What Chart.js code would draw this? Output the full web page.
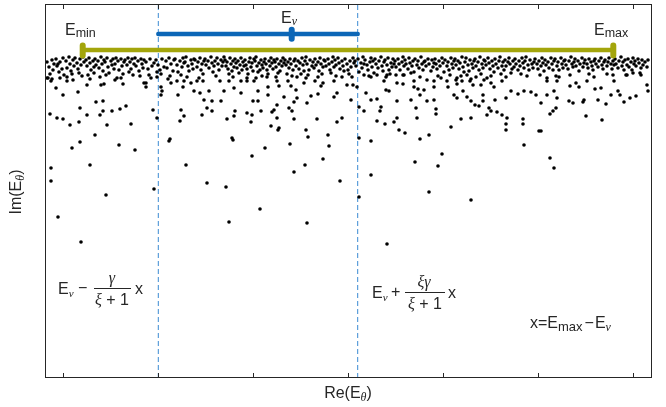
<!DOCTYPE html>
<html>
<head>
<meta charset="utf-8">
<script src="https://cdn.jsdelivr.net/npm/chart.js@4/dist/chart.umd.min.js"></script>
<style>
  html, body { margin: 0; padding: 0; background: #fff; }
  #wrap { width: 666px; height: 407px; }
</style>
</head>
<body>
<div id="wrap"><canvas id="myChart" width="666" height="407"></canvas></div>
<script>
// 軸の範囲 (Re, Im)
const reRange = [0, 6.07];
const imRange = [-3.74, 0];
// 目盛りの位置 (ラベルなし)
const tickPositions = [0.183, 1.133, 2.083, 3.033, 3.983, 4.933, 5.883];

// 特徴的なエネルギー
const eMin = 0.377;
const eMax = 5.683;
const eNu = 2.467;
const leftEdge = 1.133;   // E_v - γ/(ξ+1) x
const rightEdge = 3.127;  // E_v + ξγ/(ξ+1) x
const oliveIm = -0.46;
const blueIm = -0.30;

// 上部の密集した固有値 [Re, Im]
const bandPoints = [
  [0.02,-0.58],[0.04,-0.63],[0.05,-0.70],[0.07,-0.56],[0.08,-0.66],[0.03,-0.74],[0.09,-0.60],[0.06,-0.77],
  [0.11,-0.55],[0.12,-0.62],[0.14,-0.68],[0.15,-0.58],[0.17,-0.65],[0.18,-0.54],[0.19,-0.71],[0.13,-0.60],
  [0.21,-0.57],[0.22,-0.64],[0.24,-0.53],[0.25,-0.60],[0.26,-0.67],[0.28,-0.56],[0.29,-0.62],[0.27,-0.70],
  [0.30,-0.54],[0.32,-0.59],[0.33,-0.65],[0.35,-0.55],[0.36,-0.61],[0.38,-0.53],[0.39,-0.58],[0.34,-0.69],
  [0.41,-0.56],[0.42,-0.62],[0.44,-0.54],[0.45,-0.59],[0.46,-0.66],[0.48,-0.57],[0.49,-0.63],[0.43,-0.71],
  [0.50,-0.55],[0.51,-0.61],[0.53,-0.57],[0.54,-0.64],[0.56,-0.53],[0.57,-0.60],[0.58,-0.67],[0.59,-0.56],
  [0.60,-0.58],[0.62,-0.54],[0.63,-0.63],[0.64,-0.69],[0.66,-0.57],[0.67,-0.61],[0.68,-0.55],[0.69,-0.65],
  [0.70,-0.60],[0.71,-0.54],[0.73,-0.57],[0.74,-0.66],[0.76,-0.55],[0.77,-0.62],[0.79,-0.58],[0.78,-0.70],
  [0.80,-0.56],[0.82,-0.61],[0.83,-0.54],[0.85,-0.58],[0.86,-0.65],[0.87,-0.55],[0.89,-0.60],[0.84,-0.68],
  [0.90,-0.54],[0.91,-0.62],[0.93,-0.57],[0.94,-0.67],[0.96,-0.55],[0.97,-0.60],[0.98,-0.64],[0.99,-0.56],
  [1.01,-0.58],[1.03,-0.65],[1.05,-0.55],[1.07,-0.62],[1.09,-0.59],[1.04,-0.71],
  [1.11,-0.56],[1.13,-0.61],[1.15,-0.66],[1.17,-0.55],[1.19,-0.63],[1.16,-0.70],
  [1.21,-0.57],[1.22,-0.64],[1.24,-0.54],[1.26,-0.60],[1.28,-0.67],[1.29,-0.56],[1.25,-0.72],
  [1.30,-0.55],[1.32,-0.61],[1.33,-0.68],[1.35,-0.57],[1.37,-0.63],[1.38,-0.54],[1.39,-0.59],[1.36,-0.71],
  [1.40,-0.58],[1.41,-0.53],[1.43,-0.62],[1.44,-0.67],[1.46,-0.56],[1.47,-0.60],[1.49,-0.55],[1.48,-0.65],
  [1.50,-0.56],[1.52,-0.63],[1.53,-0.58],[1.55,-0.54],[1.56,-0.66],[1.57,-0.60],[1.59,-0.57],[1.58,-0.70],
  [1.60,-0.55],[1.61,-0.61],[1.63,-0.57],[1.64,-0.64],[1.66,-0.53],[1.67,-0.59],[1.69,-0.62],[1.68,-0.68],
  [1.70,-0.57],[1.72,-0.54],[1.73,-0.60],[1.74,-0.66],[1.76,-0.56],[1.77,-0.62],[1.78,-0.58],[1.79,-0.53],
  [1.80,-0.56],[1.81,-0.62],[1.82,-0.58],[1.83,-0.65],[1.85,-0.54],[1.86,-0.60],[1.87,-0.67],[1.88,-0.57],[1.89,-0.63],[1.84,-0.70],
  [1.90,-0.55],[1.91,-0.59],[1.92,-0.64],[1.93,-0.57],[1.95,-0.61],[1.96,-0.54],[1.97,-0.66],[1.98,-0.58],[1.99,-0.62],[1.94,-0.69],
  [2.00,-0.56],[2.01,-0.61],[2.02,-0.65],[2.04,-0.58],[2.05,-0.54],[2.06,-0.63],[2.07,-0.59],[2.08,-0.67],[2.09,-0.55],[2.03,-0.70],
  [2.10,-0.57],[2.11,-0.53],[2.12,-0.62],[2.14,-0.59],[2.15,-0.66],[2.16,-0.56],[2.17,-0.61],[2.18,-0.64],[2.19,-0.58],[2.13,-0.68],
  [2.20,-0.55],[2.21,-0.60],[2.22,-0.66],[2.24,-0.57],[2.25,-0.62],[2.26,-0.54],[2.27,-0.59],[2.28,-0.65],[2.29,-0.56],[2.23,-0.70],
  [2.30,-0.58],[2.31,-0.63],[2.32,-0.55],[2.34,-0.60],[2.35,-0.67],[2.36,-0.57],[2.37,-0.62],[2.38,-0.54],[2.39,-0.59],[2.33,-0.69],
  [2.40,-0.56],[2.41,-0.61],[2.43,-0.58],[2.44,-0.64],[2.45,-0.55],[2.46,-0.60],[2.48,-0.66],[2.49,-0.57],[2.42,-0.70],
  [2.50,-0.55],[2.51,-0.62],[2.53,-0.57],[2.54,-0.65],[2.55,-0.59],[2.57,-0.54],[2.58,-0.61],[2.59,-0.67],[2.56,-0.70],
  [2.60,-0.57],[2.61,-0.53],[2.62,-0.60],[2.64,-0.66],[2.65,-0.56],[2.67,-0.62],[2.68,-0.58],[2.69,-0.64],[2.63,-0.71],
  [2.70,-0.55],[2.71,-0.61],[2.73,-0.58],[2.74,-0.67],[2.75,-0.54],[2.76,-0.60],[2.78,-0.63],[2.79,-0.56],[2.77,-0.70],
  [2.80,-0.57],[2.81,-0.62],[2.83,-0.55],[2.84,-0.60],[2.85,-0.66],[2.87,-0.58],[2.88,-0.53],[2.89,-0.63],[2.86,-0.69],
  [2.90,-0.56],[2.91,-0.61],[2.93,-0.54],[2.94,-0.59],[2.95,-0.65],[2.97,-0.57],[2.98,-0.62],[2.99,-0.67],
  [3.00,-0.55],[3.02,-0.60],[3.03,-0.66],[3.05,-0.57],[3.06,-0.63],[3.08,-0.54],[3.09,-0.59],[3.04,-0.70],
  [3.10,-0.57],[3.11,-0.62],[3.13,-0.55],[3.14,-0.68],[3.16,-0.59],[3.17,-0.64],[3.18,-0.53],[3.19,-0.60],
  [3.20,-0.56],[3.22,-0.61],[3.23,-0.66],[3.25,-0.58],[3.26,-0.54],[3.27,-0.63],[3.28,-0.57],[3.29,-0.69],
  [3.30,-0.55],[3.31,-0.60],[3.33,-0.64],[3.34,-0.57],[3.36,-0.53],[3.37,-0.62],[3.38,-0.67],[3.39,-0.58],
  [3.40,-0.56],[3.42,-0.61],[3.43,-0.54],[3.44,-0.66],[3.46,-0.59],[3.47,-0.63],[3.48,-0.55],[3.49,-0.60],[3.45,-0.70],
  [3.50,-0.57],[3.51,-0.63],[3.53,-0.55],[3.54,-0.60],[3.55,-0.66],[3.57,-0.58],[3.58,-0.53],[3.59,-0.62],
  [3.60,-0.56],[3.61,-0.60],[3.63,-0.65],[3.64,-0.54],[3.65,-0.59],[3.67,-0.62],[3.68,-0.57],[3.69,-0.68],
  [3.70,-0.55],[3.72,-0.61],[3.73,-0.57],[3.74,-0.64],[3.76,-0.53],[3.77,-0.60],[3.78,-0.66],[3.79,-0.58],
  [3.80,-0.57],[3.81,-0.62],[3.83,-0.55],[3.84,-0.60],[3.86,-0.67],[3.87,-0.56],[3.88,-0.63],[3.89,-0.59],
  [3.90,-0.55],[3.91,-0.60],[3.92,-0.65],[3.94,-0.57],[3.95,-0.62],[3.97,-0.54],[3.98,-0.59],[3.99,-0.68],
  [4.00,-0.56],[4.02,-0.62],[4.03,-0.58],[4.04,-0.66],[4.06,-0.54],[4.07,-0.60],[4.08,-0.64],[4.09,-0.57],[4.05,-0.71],
  [4.10,-0.55],[4.11,-0.61],[4.13,-0.57],[4.14,-0.65],[4.15,-0.59],[4.17,-0.53],[4.18,-0.63],[4.19,-0.68],[4.16,-0.72],
  [4.20,-0.58],[4.21,-0.54],[4.23,-0.61],[4.24,-0.67],[4.25,-0.56],[4.27,-0.60],[4.28,-0.64],[4.29,-0.57],[4.22,-0.71],
  [4.30,-0.55],[4.31,-0.62],[4.33,-0.58],[4.34,-0.66],[4.35,-0.53],[4.37,-0.60],[4.38,-0.64],[4.39,-0.56],[4.36,-0.70],
  [4.40,-0.57],[4.41,-0.61],[4.43,-0.54],[4.44,-0.59],[4.45,-0.65],[4.47,-0.57],[4.48,-0.62],[4.49,-0.68],[4.46,-0.72],
  [4.50,-0.55],[4.51,-0.60],[4.53,-0.64],[4.54,-0.57],[4.55,-0.53],[4.57,-0.62],[4.58,-0.58],[4.59,-0.66],[4.56,-0.70],
  [4.60,-0.56],[4.61,-0.62],[4.63,-0.58],[4.64,-0.54],[4.65,-0.60],[4.67,-0.65],[4.68,-0.57],[4.69,-0.63],[4.66,-0.69],
  [4.70,-0.55],[4.71,-0.60],[4.73,-0.66],[4.74,-0.57],[4.75,-0.62],[4.77,-0.54],[4.78,-0.59],[4.79,-0.64],[4.76,-0.70],
  [4.80,-0.57],[4.81,-0.53],[4.83,-0.61],[4.84,-0.66],[4.85,-0.56],[4.87,-0.60],[4.88,-0.64],[4.89,-0.58],
  [4.90,-0.55],[4.92,-0.60],[4.93,-0.65],[4.94,-0.57],[4.96,-0.62],[4.97,-0.54],[4.98,-0.59],[4.99,-0.67],
  [5.00,-0.56],[5.01,-0.61],[5.03,-0.58],[5.04,-0.64],[5.06,-0.54],[5.07,-0.60],[5.08,-0.66],[5.09,-0.57],
  [5.10,-0.55],[5.12,-0.62],[5.13,-0.58],[5.14,-0.66],[5.16,-0.54],[5.17,-0.60],[5.18,-0.64],[5.19,-0.57],
  [5.20,-0.56],[5.21,-0.61],[5.23,-0.65],[5.24,-0.57],[5.26,-0.53],[5.27,-0.60],[5.28,-0.63],[5.29,-0.58],
  [5.30,-0.55],[5.31,-0.62],[5.33,-0.57],[5.34,-0.67],[5.35,-0.60],[5.37,-0.54],[5.38,-0.63],[5.39,-0.59],
  [5.40,-0.56],[5.42,-0.60],[5.43,-0.64],[5.44,-0.55],[5.46,-0.58],[5.47,-0.62],[5.48,-0.66],[5.49,-0.57],
  [5.50,-0.55],[5.51,-0.60],[5.53,-0.63],[5.54,-0.57],[5.56,-0.54],[5.57,-0.61],[5.58,-0.65],[5.59,-0.58],
  [5.60,-0.56],[5.62,-0.62],[5.63,-0.58],[5.64,-0.54],[5.66,-0.60],[5.67,-0.65],[5.68,-0.57],[5.69,-0.61],
  [5.70,-0.55],[5.71,-0.60],[5.73,-0.64],[5.74,-0.57],[5.76,-0.53],[5.77,-0.62],[5.78,-0.58],[5.79,-0.66],
  [5.80,-0.56],[5.82,-0.61],[5.83,-0.55],[5.84,-0.63],[5.86,-0.58],[5.87,-0.66],[5.88,-0.54],[5.89,-0.60],
  [5.90,-0.57],[5.91,-0.62],[5.93,-0.55],[5.94,-0.59],[5.96,-0.64],[5.97,-0.56],[5.98,-0.61],
  [6.00,-0.58],[6.02,-0.63],[6.03,-0.56],
  [0.15,-0.74],[0.37,-0.72],[0.55,-0.73],[0.72,-0.74],[0.95,-0.72],[1.06,-0.74],[1.23,-0.75],[1.42,-0.73],
  [1.54,-0.74],[1.71,-0.72],[1.88,-0.73],[2.02,-0.74],[2.17,-0.72],[2.31,-0.73],[2.47,-0.72],[2.61,-0.74],
  [2.73,-0.73],[2.91,-0.72],[3.07,-0.73],[3.24,-0.72],[3.41,-0.73],[3.58,-0.71],[3.75,-0.73],[3.93,-0.72],
  [4.12,-0.74],[4.26,-0.75],[4.42,-0.74],[4.61,-0.73],[4.82,-0.72],[4.95,-0.71],[5.11,-0.72],[5.25,-0.71],
  [5.44,-0.70],[5.62,-0.70],[5.81,-0.71],[5.95,-0.69]
];

// 下に散らばる固有値 [Re, Im]
const tailPoints = [
  [0.11,-0.84],[0.33,-0.88],[0.18,-0.91],[0.42,-0.81],[0.56,-0.81],[0.59,-0.80],[0.70,-0.76],[0.78,-0.80],
  [0.51,-0.98],[0.58,-0.97],[0.35,-1.04],[0.58,-1.07],[0.67,-1.07],[0.75,-1.05],[0.81,-1.02],[0.05,-1.10],
  [0.12,-1.14],[0.18,-1.15],[0.25,-1.21],[0.34,-1.18],[0.42,-1.11],[0.55,-1.11],[0.62,-1.21],[0.86,-1.20],
  [0.50,-1.31],[0.99,-0.79],[0.22,-0.73],[0.22,-0.77],[0.07,-0.75],[0.28,-0.76],[0.45,-0.75],[0.49,-0.69],
  [0.61,-0.71],[0.76,-0.74],[0.88,-0.71],[0.02,-0.74],
  [0.35,-1.38],[0.27,-1.44],[0.74,-1.41],[0.90,-1.46],[0.06,-1.64],[0.45,-1.61],[0.06,-1.77],[0.61,-1.91],
  [1.09,-1.85],[0.13,-2.13],[0.36,-2.38],[1.24,-1.37],[1.88,-1.36],[2.20,-1.44],[2.45,-1.40],[2.63,-1.33],
  [2.83,-1.31],[2.84,-1.42],[2.07,-1.52],[1.41,-1.61],[2.78,-1.55],[2.60,-1.61],[2.49,-1.68],[1.62,-1.79],
  [1.81,-1.83],[2.95,-1.77],[3.14,-1.93],[2.15,-2.05],[1.84,-2.18],[2.62,-2.19],[2.61,-1.26],[2.33,-1.26],
  [3.26,-1.37],[3.60,-1.29],[3.54,-1.26],[3.75,-1.35],[3.84,-1.31],[3.97,-1.50],[3.70,-1.58],[3.93,-1.62],
  [3.26,-1.71],[3.84,-1.88],[4.26,-1.96],[3.42,-2.40],[4.79,-1.41],[4.94,-1.27],[4.61,-1.26],[5.05,-1.54],
  [5.09,-1.64],
  [1.01,-0.79],[1.01,-0.83],[1.12,-0.68],[1.12,-0.73],[1.16,-0.83],[1.17,-0.87],[1.16,-0.91],[1.26,-0.79],
  [1.32,-0.77],[1.39,-0.77],[1.46,-0.79],[1.52,-0.77],[1.58,-0.77],[1.38,-0.83],[1.49,-0.87],[1.33,-0.91],
  [1.55,-0.89],[1.64,-0.87],[1.75,-0.77],[1.84,-0.77],[1.96,-0.77],[1.79,-0.87],[1.89,-0.84],[1.96,-0.89],
  [1.59,-0.96],[1.67,-0.97],[1.76,-0.97],[1.62,-1.04],[1.36,-1.06],[1.08,-1.06],[1.12,-1.14],[1.39,-1.12],
  [1.35,-1.17],[1.57,-1.11],[1.67,-1.07],[1.90,-1.07],[1.89,-1.12],[1.82,-1.15],[1.87,-1.34],[1.25,-1.35],
  [2.02,-0.77],[2.09,-0.77],[2.11,-0.74],[2.22,-0.73],[2.32,-0.77],[2.43,-0.77],[2.52,-0.73],[2.59,-0.79],
  [2.70,-0.77],[2.78,-0.79],[2.89,-0.77],[2.97,-0.73],[2.13,-0.87],[2.23,-0.83],[2.34,-0.82],[2.46,-0.82],
  [2.51,-0.86],[2.76,-0.82],[2.39,-0.93],[2.52,-0.94],[2.66,-0.92],[2.73,-0.90],[2.89,-0.93],[2.92,-0.89],
  [2.08,-0.97],[2.13,-0.97],[2.23,-0.91],[2.32,-1.01],[2.29,-1.06],[2.27,-1.08],[2.44,-1.04],[2.47,-1.07],
  [2.49,-0.98],[2.62,-0.99],[2.02,-1.09],[2.07,-1.11],[2.16,-1.07],[2.06,-1.18],[2.32,-1.14],[2.49,-1.15],
  [2.72,-1.15],[2.92,-1.18],[2.97,-1.14],[2.26,-1.22],[2.34,-1.24],
  [3.02,-0.81],[3.08,-0.81],[3.12,-0.83],[3.06,-0.96],[3.19,-0.71],[3.26,-0.73],[3.32,-0.71],[3.42,-0.71],
  [3.51,-0.71],[3.59,-0.71],[3.66,-0.69],[3.39,-0.77],[3.52,-0.79],[3.58,-0.80],[3.69,-0.77],[3.82,-0.76],
  [3.89,-0.77],[3.96,-0.74],[3.21,-0.89],[3.32,-0.95],[3.26,-0.96],[3.41,-0.86],[3.44,-0.87],[3.52,-0.97],
  [3.69,-0.83],[3.73,-0.85],[3.79,-0.86],[3.89,-0.83],[3.75,-0.91],[3.82,-0.97],[3.89,-0.96],[3.66,-0.96],
  [3.14,-1.03],[3.19,-1.07],[3.36,-1.03],[3.35,-1.07],[3.71,-1.04],[3.91,-1.05],[3.91,-1.10],[3.32,-1.17],
  [3.40,-1.20],[3.49,-1.18],[3.52,-1.14],[3.72,-1.14],[3.14,-1.34],
  [4.02,-0.77],[4.11,-0.76],[4.17,-0.77],[4.12,-0.80],[4.25,-0.77],[4.31,-0.73],[4.39,-0.76],[4.46,-0.79],
  [4.57,-0.77],[4.49,-0.83],[4.36,-0.81],[4.28,-0.81],[4.03,-0.83],[4.09,-0.91],[4.12,-0.94],[4.18,-0.87],
  [4.22,-0.93],[4.26,-0.97],[4.30,-1.01],[4.34,-1.02],[4.38,-0.97],[4.38,-0.91],[4.50,-0.96],[4.61,-0.94],
  [4.66,-0.87],[4.73,-0.90],[4.79,-0.87],[4.86,-0.88],[4.91,-0.91],[4.96,-0.99],[4.44,-1.04],[4.46,-1.07],
  [4.42,-1.11],[4.52,-1.08],[4.62,-1.14],[4.57,-1.11],[4.16,-1.15],[4.26,-1.14],[4.06,-1.23],[4.61,-1.20],
  [4.78,-1.15],[4.78,-1.20],[4.96,-1.27],
  [5.02,-0.74],[5.02,-0.77],[5.12,-0.77],[5.14,-0.73],[5.25,-0.82],[5.31,-0.79],[5.42,-0.77],[5.49,-0.73],
  [5.34,-0.83],[5.50,-0.85],[5.56,-0.84],[5.68,-0.71],[5.69,-0.77],[5.82,-0.71],[5.88,-0.69],[5.96,-0.71],
  [6.02,-0.81],[6.03,-0.87],[5.09,-0.87],[5.02,-0.91],[5.12,-0.94],[5.24,-0.97],[5.28,-0.99],[5.38,-0.98],
  [5.39,-0.96],[5.53,-0.96],[5.61,-1.00],[5.66,-0.91],[5.73,-0.87],[5.75,-0.91],[5.79,-0.98],[5.85,-0.94],
  [5.91,-0.92],[5.11,-1.04],[5.08,-1.07],[5.05,-1.10],[5.41,-1.12],[5.57,-1.16]
];

const SANS = '"Liberation Sans", Arial, Helvetica, sans-serif';
const SERIF = '"Liberation Serif", "Times New Roman", serif';
const TEXT = '#262626';
const OLIVE = '#a3a50b';
const BLUE = '#0b66b7';
const DASH = '#3b8ad3';

const toXY = p => ({ x: p[0], y: p[1] });

// 文字列を順番に描く (添字つき)
function drawRuns(ctx, x, y, runs) {
  runs.forEach(r => {
    ctx.font = r.font;
    ctx.fillText(r.t, x, y + (r.dy || 0));
    x += ctx.measureText(r.t).width + (r.gap || 0);
  });
  return x;
}
function runsWidth(ctx, runs) {
  let w = 0;
  runs.forEach(r => { ctx.font = r.font; w += ctx.measureText(r.t).width + (r.gap || 0); });
  return w;
}

// 枠・目盛り・注釈を描くプラグイン
const framePlugin = {
  id: 'frame',
  afterDraw(chart) {
    const ctx = chart.ctx;
    const a = chart.chartArea;
    const xs = chart.scales.x;
    ctx.save();
    ctx.strokeStyle = TEXT;
    ctx.lineWidth = 1;
    ctx.strokeRect(a.left + 0.5, a.top + 0.5, a.right - a.left - 1, a.bottom - a.top - 1);
    tickPositions.forEach(v => {
      const px = Math.round(xs.getPixelForValue(v)) + 0.5;
      ctx.beginPath();
      ctx.moveTo(px, a.bottom); ctx.lineTo(px, a.bottom - 5);
      ctx.moveTo(px, a.top); ctx.lineTo(px, a.top + 5);
      ctx.stroke();
    });

    ctx.fillStyle = TEXT;
    ctx.textBaseline = 'alphabetic';
    ctx.textAlign = 'left';

    // ラベル E_min, E_v, E_max
    drawRuns(ctx, 65, 35, [{ t: 'E', font: '16px ' + SANS }, { t: 'min', font: '12.5px ' + SANS, dy: 2 }]);
    drawRuns(ctx, 281, 23, [{ t: 'E', font: '16px ' + SANS }, { t: 'ν', font: 'italic 12px ' + SERIF, dy: 2 }]);
    drawRuns(ctx, 594, 35, [{ t: 'E', font: '16px ' + SANS }, { t: 'max', font: '12.5px ' + SANS, dy: 2 }]);

    // 左の式
    drawRuns(ctx, 58, 294, [{ t: 'E', font: '16px ' + SANS }, { t: 'ν', font: 'italic 11px ' + SERIF, dy: 3 }]);
    ctx.font = '16px ' + SANS; ctx.fillText('−', 78, 293);
    ctx.fillRect(94, 288, 37, 1);
    ctx.textAlign = 'center';
    ctx.font = 'italic 16px ' + SERIF; ctx.fillText('γ', 112, 283);
    ctx.textAlign = 'left';
    let dr = [{ t: 'ξ', font: 'italic 16px ' + SERIF }, { t: ' + 1', font: '16px ' + SANS }];
    drawRuns(ctx, 112 - runsWidth(ctx, dr) / 2, 305, dr);
    ctx.font = '16px ' + SANS; ctx.fillText('x', 135, 294);

    // 右の式
    drawRuns(ctx, 372, 298, [{ t: 'E', font: '16px ' + SANS }, { t: 'ν', font: 'italic 11px ' + SERIF, dy: 3 }]);
    ctx.font = '16px ' + SANS; ctx.fillText('+', 391, 297);
    ctx.fillRect(405, 292, 40, 1);
    let nr = [{ t: 'ξγ', font: 'italic 16px ' + SERIF }];
    drawRuns(ctx, 424 - runsWidth(ctx, nr) / 2, 287, nr);
    dr = [{ t: 'ξ', font: 'italic 16px ' + SERIF }, { t: ' + 1', font: '16px ' + SANS }];
    drawRuns(ctx, 425 - runsWidth(ctx, dr) / 2, 309, dr);
    ctx.font = '16px ' + SANS; ctx.fillText('x', 448, 298);

    // x = E_max - E_v
    drawRuns(ctx, 530, 328, [
      { t: 'x', font: '16px ' + SANS },
      { t: '=', font: '16px ' + SANS },
      { t: 'E', font: '16px ' + SANS },
      { t: 'max', font: '13px ' + SANS, dy: 3, gap: 2 },
      { t: '−', font: '16px ' + SANS, gap: 1 },
      { t: 'E', font: '16px ' + SANS },
      { t: 'ν', font: 'italic 12px ' + SERIF, dy: 3 }
    ]);

    // 軸ラベル
    const xl = [{ t: 'Re(E', font: '16px ' + SANS }, { t: 'θ', font: 'italic 12px ' + SERIF, dy: 3 }, { t: ')', font: '16px ' + SANS }];
    drawRuns(ctx, 348 - runsWidth(ctx, xl) / 2, 398, xl);
    const yl = [{ t: 'Im(E', font: '16px ' + SANS }, { t: 'θ', font: 'italic 12px ' + SERIF, dy: 3 }, { t: ')', font: '16px ' + SANS }];
    ctx.translate(21, 192);
    ctx.rotate(-Math.PI / 2);
    drawRuns(ctx, -runsWidth(ctx, yl) / 2, 0, yl);
    ctx.restore();
  }
};

const vline = (x, y1, y2, color, width, extra) => Object.assign({
  type: 'line',
  data: [{ x: x, y: y1 }, { x: x, y: y2 }],
  borderColor: color,
  borderWidth: width,
  pointRadius: 0,
  borderCapStyle: 'round'
}, extra || {});

const ctx = document.getElementById('myChart').getContext('2d');
new Chart(ctx, {
  type: 'scatter',
  data: {
    datasets: [
      // 棒とキャップ (上に描く)
      vline(eMin, -0.415, -0.515, OLIVE, 6),
      vline(eMax, -0.415, -0.515, OLIVE, 6),
      {
        type: 'line', data: [{ x: eMin, y: oliveIm }, { x: eMax, y: oliveIm }],
        borderColor: OLIVE, borderWidth: 4.5, pointRadius: 0, borderCapStyle: 'butt'
      },
      vline(eNu, -0.257, -0.347, BLUE, 6),
      {
        type: 'line', data: [{ x: leftEdge, y: blueIm }, { x: rightEdge, y: blueIm }],
        borderColor: BLUE, borderWidth: 4.5, pointRadius: 0, borderCapStyle: 'round'
      },
      // 固有値
      {
        data: bandPoints.concat(tailPoints).map(toXY),
        backgroundColor: '#000',
        borderWidth: 0,
        pointRadius: 1.8,
        pointHoverRadius: 1.8
      },
      // 破線
      vline(leftEdge, imRange[0], imRange[1], DASH, 1, { borderDash: [5, 3], borderCapStyle: 'butt' }),
      vline(rightEdge, imRange[0], imRange[1], DASH, 1, { borderDash: [5, 3], borderCapStyle: 'butt' })
    ]
  },
  options: {
    responsive: false,
    animation: false,
    devicePixelRatio: 1,
    layout: { padding: { left: 45, right: 14, top: 4, bottom: 29 } },
    plugins: { legend: { display: false }, tooltip: { enabled: false } },
    scales: {
      x: { type: 'linear', display: false, min: reRange[0], max: reRange[1] },
      y: { type: 'linear', display: false, min: imRange[0], max: imRange[1] }
    }
  },
  plugins: [framePlugin]
});
</script>
</body>
</html>
